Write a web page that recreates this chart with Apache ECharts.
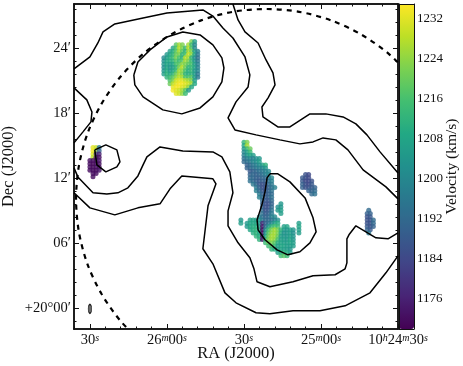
<!DOCTYPE html>
<html>
<head>
<meta charset="utf-8">
<style>
  html, body { margin: 0; padding: 0; background: #fff; }
  #chart { width: 463px; height: 366px; }
</style>
<script src="https://cdn.jsdelivr.net/npm/echarts@6/dist/echarts.min.js"></script>
</head>
<body>
<div id="chart"></div>
<script>
// x = RA seconds east of 10h24m30s, y = arcmin north of +20d00m
const raMajor = [0, 30, 60, 90, 120];
const raMinor = [6, 12, 18, 24, 36, 42, 48, 54, 66, 72, 78, 84, 96, 102, 108, 114, 126];
const decMajor = [0, 6, 12, 18, 24];
const decMinor = [-1.2, 1.2, 2.4, 3.6, 4.8, 7.2, 8.4, 9.6, 10.8, 13.2, 14.4, 15.6, 16.8, 19.2, 20.4, 21.6, 22.8, 25.2, 26.4, 27.6];
const velTicks = [1176, 1184, 1192, 1200, 1208, 1216, 1224, 1232];
const raLabels = { 0: "10{sup|h}24{sup|m}30{sup|s}", 30: "25{sup|m}00{sup|s}", 60: "30{sup|s}", 90: "26{sup|m}00{sup|s}", 120: "30{sup|s}" };
const decLabels = { 0: "+20°00′", 6: "06′", 12: "12′", 18: "18′", 24: "24′" };
const viridis = ["#440154", "#482475", "#414487", "#355f8d", "#2a788e", "#21908d", "#22a884", "#42be71", "#7ad151", "#bddf26", "#fde725"];

const contourA = [[126.2,22.06],[120,23.17],[116.9,24.46],[114.9,25.48],[110.3,26.22],[99.3,26.77],[90,27.23],[76,27.51],[72.1,26.95],[68.2,25.85],[64.3,24.92],[59.6,23.17],[57.7,21.51],[58.4,20.4],[63.1,19.02],[66.2,17.54],[63.5,16.43],[55.3,15.97],[46,15.51],[38.2,15.14],[33.1,15.32],[29.2,15.69],[24.2,15.51],[19.5,14.59],[13.6,12.74],[4.7,11.17],[0,10.06]];
const contourB = [[64.3,28.06],[62.3,26.59],[59.6,25.48],[54.5,24.46],[51.4,22.89],[48.7,21.69],[47.9,20.59],[50.6,19.39],[53,18.55],[52.6,17.63],[46.8,16.71],[42.1,16.71],[34.3,17.91],[28.1,17.91],[21.4,17.63],[16.4,16.99],[12.1,15.97],[7,14.4],[0,12.46]];
const contourC = [[126.2,10.62],[120,9.23],[110.3,8.58],[101.3,9.23],[92.7,9.6],[88.8,10.99],[84.2,12.18],[72.1,11.91],[70.9,11.45],[74,9.42],[76,5.45],[72.1,4.06],[67.4,1.38],[63.1,0.46],[55.3,-0.46],[49.9,-0.55],[40.9,-0.28],[30.4,-0.28],[20.6,0.18],[10.9,1.38],[4.7,3.23],[0,4.8]];
const contourD = [[126.2,12.92],[124.7,12.09],[118.8,10.62],[113.4,10.52],[109.1,10.62],[105.2,11.08],[101.3,12.18],[99.3,13.2],[97.8,13.94],[92.7,14.86],[83.8,14.49],[72.1,14.4],[68.6,13.94],[65.5,12.55],[64.3,10.62],[66.2,8.95],[66.2,7.57],[62.3,6],[57.7,4.62],[56.1,3.6],[54.9,2.4],[49.9,1.94],[40.9,2.4],[33.1,2.95],[24.5,3.05],[20.6,3.6],[19.9,4.15],[19.9,6.37],[19.1,6.74],[16.4,7.57],[8.6,6.46],[3.9,6.37],[0,6.92]];
const contourE = [[126.2,20.31],[121.2,19.2],[119.2,18.09],[119.6,17.17],[122.7,16.25],[126.2,15.23]];
const contourF = [[102.9,21.51],[101.3,22.71],[96.6,23.82],[90,25.02],[83.8,25.48],[77.1,25.2],[72.1,24.28],[68.6,23.08],[67.8,22.15],[68.6,20.86],[72.1,19.48],[77.1,18.46],[84.2,17.91],[91.6,18.28],[99.3,19.48],[102.5,20.59],[102.9,21.51]];
const contourG = [[118.1,14.59],[113.8,15.05],[109.5,14.59],[108.3,13.48],[109.5,13.02],[113.8,12.55],[117.3,13.2],[118.1,14.59]];
const contourH = [[49.9,12.37],[46.8,12.37],[42.1,11.63],[36.2,10.15],[33.1,8.31],[31.9,7.02],[34.3,6],[38.2,5.17],[42.9,4.89],[47.1,5.35],[51.8,6.28],[54.5,7.2],[54.9,8.12],[53,9.51],[51.8,10.71],[51,12],[49.9,12.37]];
const contours = [contourA, contourB, contourC, contourD, contourE, contourF, contourG, contourH];

const primaryBeam = [[-5.3,21.34],[3.8,23.5],[14.4,25.25],[26.1,26.55],[38.5,27.34],[51.4,27.6],[64.3,27.34],[76.7,26.55],[88.4,25.25],[99,23.5],[108.1,21.34],[115.5,18.83],[121,16.06],[124.3,13.11],[125.4,10.06],[124.3,7.01],[121,4.06],[115.5,1.29],[108.1,-1.21],[99,-3.38]];
const beamMarker = [[120, -0.1]];

// velocity rows: [dec, first RA, km/s per cell going west in 1.2s steps]
const blobNorth = [
    [24.6, 80.4, [1222,1206]],
    [24.3, 86.4, [1218,1226,1222,null,1226,1214,1200]],
    [24.0, 87.6, [1207,1216,1228,1222,1214,1228,1216,1200]],
    [23.7, 88.8, [1206,1210,1218,1226,1218,1212,1226,1222,1206,1198]],
    [23.4, 90.0, [1204,1208,1212,1220,1222,1212,1216,1230,1224,1208,1196]],
    [23.1, 91.2, [1200,1206,1210,1214,1222,1216,1212,1228,1226,1212,1202,1194]],
    [22.8, 91.2, [1202,1208,1210,1212,1218,1214,1218,1226,1222,1214,1204,1196]],
    [22.5, 91.2, [1204,1208,1206,1208,1216,1218,1224,1222,1218,1216,1206,1198]],
    [22.2, 91.2, [1202,1208,1204,1206,1212,1222,1228,1220,1212,1214,1208,1198]],
    [21.9, 91.2, [1204,1210,1204,1208,1214,1226,1224,1216,1210,1214,1204,1200]],
    [21.6, 91.2, [1206,1212,1208,1212,1220,1226,1222,1212,1210,1212,1206,1196]],
    [21.3, 90.0, [1212,1214,1218,1224,1228,1226,1216,1216,1218,1206,1196]],
    [21.0, 88.8, [1216,1222,1230,1232,1232,1228,1226,1222,1206]],
    [20.7, 88.8, [1220,1228,1232,1234,1234,1232,1230,1226,1208]],
    [20.4, 87.6, [1232,1234,1234,1232,1230,1224,1208]],
    [20.1, 87.6, [1234,1232,1230,1226,1218,1204]],
    [19.8, 86.4, [1232,1230,1224,1214]]
];
const blobWest = [
    [14.8, 118.8, [1232,1230,1196]],
    [14.5, 118.8, [1234,1226,1190]],
    [14.2, 118.8, [1232,1180,1176]],
    [13.9, 118.8, [1228,1172,1172]],
    [13.6, 120.0, [1172,1172,1172,1174]],
    [13.3, 120.0, [1172,1171,1172,1172]],
    [13.0, 120.0, [1172,1171,1172,1172]],
    [12.7, 120.0, [1172,1172,1171,1174]],
    [12.4, 118.8, [1172,1172]],
    [12.1, 118.8, [1172]]
];
const blobMain = [
    [15.3, 60.0, [1212,1222]],
    [15.0, 60.0, [1208,1226]],
    [14.7, 60.0, [1204,1214,1220]],
    [14.4, 60.0, [1200,1206,1214]],
    [14.1, 60.0, [1198,1204,1208,1206]],
    [13.8, 60.0, [1194,1198,1200,1198,1202,1204]],
    [13.5, 60.0, [1192,1194,1196,1200,1202,1206]],
    [13.2, 58.8, [1190,1192,1196,1198,1202,1206,1212]],
    [12.9, 58.8, [1190,1192,1194,1196,1198,1200,1204]],
    [12.6, 57.6, [1188,1190,1192,1194,1196,1198,1200]],
    [12.3, 57.6, [1190,1192,1190,1192,1194,1198,1200]],
    [12.0, 57.6, [1192,1192,1190,1190,1192,1192,1196,1200]],
    [11.7, 57.6, [1194,1192,1190,1188,1190,1190,1194,1198]],
    [11.4, 56.4, [1196,1192,1188,1186,1188,1192,1196]],
    [11.1, 55.2, [1196,1190,1186,1186,1190,1194,1198]],
    [10.8, 55.2, [1198,1192,1188,1186,1190,1194]],
    [10.5, 54.0, [1196,1190,1188,1190,1192]],
    [10.2, 54.0, [1198,1192,1188,1190,1194]],
    [9.9, 52.8, [1192,1188,1188,1192]],
    [9.6, 52.8, [1190,1186,1186,1190]],
    [9.3, 52.8, [1190,1186,1186,1192]],
    [9.0, 52.8, [1192,1186,1188,1194]],
    [8.7, 52.8, [1194,1188,1190,1196]],
    [8.4, 54.0, [1200,1194,1190,1192,1198,1200]],
    [8.1, 57.6, [1206,1208,1206,1204,1196,1192,1192,1194,1198,1202]],
    [7.8, 58.8, [1204,1208,1208,1208,1204,1178,1190,1194,1200,1206,1210]],
    [7.5, 58.8, [1204,1208,1210,1210,1206,1174,1192,1204,1212,1216,1214,null,1206,1208]],
    [7.2, 57.6, [1208,1210,1212,1208,1172,1200,1214,1222,1226,1222,1212,1206,1204,1206,1204]],
    [6.9, 56.4, [1210,1212,1208,1172,1204,1218,1224,1226,1222,1210,1202,1204,1206,1202]],
    [6.6, 55.2, [1212,1210,1172,1208,1220,1226,1226,1220,1206,1204,1204,1206,1204]],
    [6.3, 54.0, [1212,1174,1212,1222,1226,1224,1216,1206,1206,1204,1208,1204]],
    [6.0, 51.6, [1214,1220,1222,1218,1210,1208,1206,1206,1208,1206]],
    [5.7, 50.4, [1214,1218,1214,1206,1208,1208,1206,1206,1206]],
    [5.4, 49.2, [1212,1210,1206,1208,1206,1206,1204]],
    [5.1, 46.8, [1206,1210,1212,1210,1206]],
    [4.8, 45.6, [1214,1218,1214]]
];
const blobNE = [
    [12.3, 36.0, [1186,1184]],
    [12.0, 37.2, [1188,1186,1184]],
    [11.7, 37.2, [1188,1184,1184,1186]],
    [11.4, 37.2, [1190,1186,1184,1188]],
    [11.1, 37.2, [1190,1186,1186,1188,1190]],
    [10.8, 34.8, [1190,1190,1192]],
    [10.5, 33.6, [1192,1194]]
];
const blobDots = [
    [9.6, 45.6, [1204]],
    [9.3, 46.8, [1202,1204]],
    [9.0, 46.8, [1204,1206]],
    [8.7, 45.6, [1206]],
    [7.8, 38.6, [1206]],
    [7.5, 38.6, [1208]],
    [7.2, 38.6, [1206]],
    [6.9, 38.6, [1206]],
    [8.1, 61.2, [1204]],
    [7.8, 61.2, [1206]]
];
const blobEast = [
    [9.0, 11.4, [1192]],
    [8.7, 12.0, [1190,1190]],
    [8.4, 12.0, [1186,1188]],
    [8.1, 12.0, [1186,1186,1192]],
    [7.8, 12.0, [1186,1186,1192]],
    [7.5, 12.0, [1188,1186,1190]],
    [7.2, 12.0, [1190,1188]],
    [6.9, 11.4, [1196]]
];
const blobs = [blobNorth, blobWest, blobMain, blobNE, blobDots, blobEast];

const font = "Liberation Serif";
const ink = "#111";

function toCells(rows) {
    const cells = [];
    rows.forEach(r => {
        r[2].forEach((v, i) => {
            if (v !== null) cells.push([r[1] - 1.2 * i, r[0], v]);
        });
    });
    return cells;
}

function xAxisFor(position, ticks, len, labelled) {
    return {
        type: "value", gridIndex: 0, position: position, inverse: true,
        min: 0, max: 126.2, splitLine: { show: false },
        axisLine: { onZero: false, lineStyle: { color: ink, width: 1.5 } },
        axisTick: { inside: true, length: len, customValues: ticks, lineStyle: { color: ink, width: 1 } },
        axisLabel: labelled ? {
            show: true, customValues: ticks, margin: 4, color: ink, fontFamily: font, fontSize: 14.5,
            formatter: v => raLabels[v],
            rich: { sup: { fontSize: 10, fontStyle: "italic", fontFamily: font, color: ink, verticalAlign: "top", lineHeight: 10 } }
        } : { show: false }
    };
}

function yAxisFor(position, ticks, len, labelled) {
    return {
        type: "value", gridIndex: 0, position: position,
        min: -1.96, max: 28.06, splitLine: { show: false },
        axisLine: { onZero: false, lineStyle: { color: ink, width: 1.5 } },
        axisTick: { inside: true, length: len, customValues: ticks, lineStyle: { color: ink, width: 1 } },
        axisLabel: labelled ? {
            show: true, customValues: ticks, margin: 3, color: ink, fontFamily: font, fontSize: 14.5,
            formatter: v => decLabels[v]
        } : { show: false }
    };
}

const chart = echarts.init(document.getElementById("chart"));

const blobSeries = {
    type: "scatter", xAxisIndex: 0, yAxisIndex: 0, symbol: "circle", symbolSize: 5,
    data: blobs.flatMap(toCells), z: 2, encode: { x: 0, y: 1 }
};
const contourSeries = contours.map(c => ({
    type: "line", xAxisIndex: 0, yAxisIndex: 0, data: c, showSymbol: false, symbol: "none",
    lineStyle: { color: "#000", width: 1.5 }, z: 3
}));

chart.setOption({
    animation: false,
    grid: [
        { left: 74, top: 4, width: 324, height: 325, outerBoundsMode: "none" },
        { left: 399, top: 4, width: 15, height: 325, outerBoundsMode: "none" }
    ],
    xAxis: [
        Object.assign(xAxisFor("bottom", raMajor, 5, true), {
            name: "RA (J2000)", nameLocation: "middle", nameGap: 16, nameMoveOverlap: false,
            nameTextStyle: { fontFamily: font, fontSize: 16.5, color: ink }
        }),
        xAxisFor("bottom", raMinor, 2.5, false),
        xAxisFor("top", raMajor, 5, false),
        xAxisFor("top", raMinor, 2.5, false),
        {
            type: "value", gridIndex: 1, min: 0, max: 1, z: 6, position: "bottom",
            splitLine: { show: false }, axisTick: { show: false }, axisLabel: { show: false },
            axisLine: { onZero: false, lineStyle: { color: ink, width: 1 } }
        },
        {
            type: "value", gridIndex: 1, min: 0, max: 1, z: 6, position: "top",
            splitLine: { show: false }, axisTick: { show: false }, axisLabel: { show: false },
            axisLine: { onZero: false, lineStyle: { color: ink, width: 1 } }
        }
    ],
    yAxis: [
        Object.assign(yAxisFor("left", decMajor, 5, true), {
            name: "Dec (J2000)", nameLocation: "middle", nameGap: 57, nameRotate: 90, nameMoveOverlap: false,
            nameTextStyle: { fontFamily: font, fontSize: 16.5, color: ink }
        }),
        yAxisFor("left", decMinor, 2.5, false),
        yAxisFor("right", decMajor, 5, false),
        yAxisFor("right", decMinor, 2.5, false),
        {
            type: "value", gridIndex: 1, position: "right", min: 1169.9, max: 1234.9, z: 6,
            splitLine: { show: false }, axisTick: { show: false },
            axisLine: { onZero: false, lineStyle: { color: ink, width: 1 } },
            axisLabel: {
                show: true, customValues: velTicks, margin: 3, color: ink, fontFamily: font, fontSize: 13,
                formatter: v => String(v)
            },
            name: "Velocity (km/s)", nameLocation: "middle", nameGap: 30, nameRotate: 90, nameMoveOverlap: false,
            nameTextStyle: { fontFamily: font, fontSize: 15.5, color: ink }
        },
        {
            type: "value", gridIndex: 1, position: "left", min: 1169.9, max: 1234.9, z: 6,
            splitLine: { show: false }, axisTick: { show: false }, axisLabel: { show: false },
            axisLine: { onZero: false, lineStyle: { color: ink, width: 1 } }
        }
    ],
    visualMap: {
        type: "continuous", seriesIndex: 0, dimension: 2, min: 1169.9, max: 1234.9,
        inRange: { color: viridis },
        left: 399, top: 4, itemWidth: 15, itemHeight: 325, padding: 0,
        text: null, showLabel: false, calculable: false, hoverLink: false, realtime: false
    },
    series: [blobSeries].concat(contourSeries, [
        {
            type: "line", xAxisIndex: 0, yAxisIndex: 0, data: primaryBeam, symbol: "none", smooth: 0.3,
            lineStyle: { color: "#000", width: 2.2, type: [5, 5] }, z: 4
        },
        {
            type: "scatter", xAxisIndex: 0, yAxisIndex: 0, data: beamMarker, symbol: "circle", symbolSize: [3.5, 9],
            itemStyle: { color: "#444", borderColor: "#000", borderWidth: 1 }, z: 4
        }
    ])
});
</script>
</body>
</html>
